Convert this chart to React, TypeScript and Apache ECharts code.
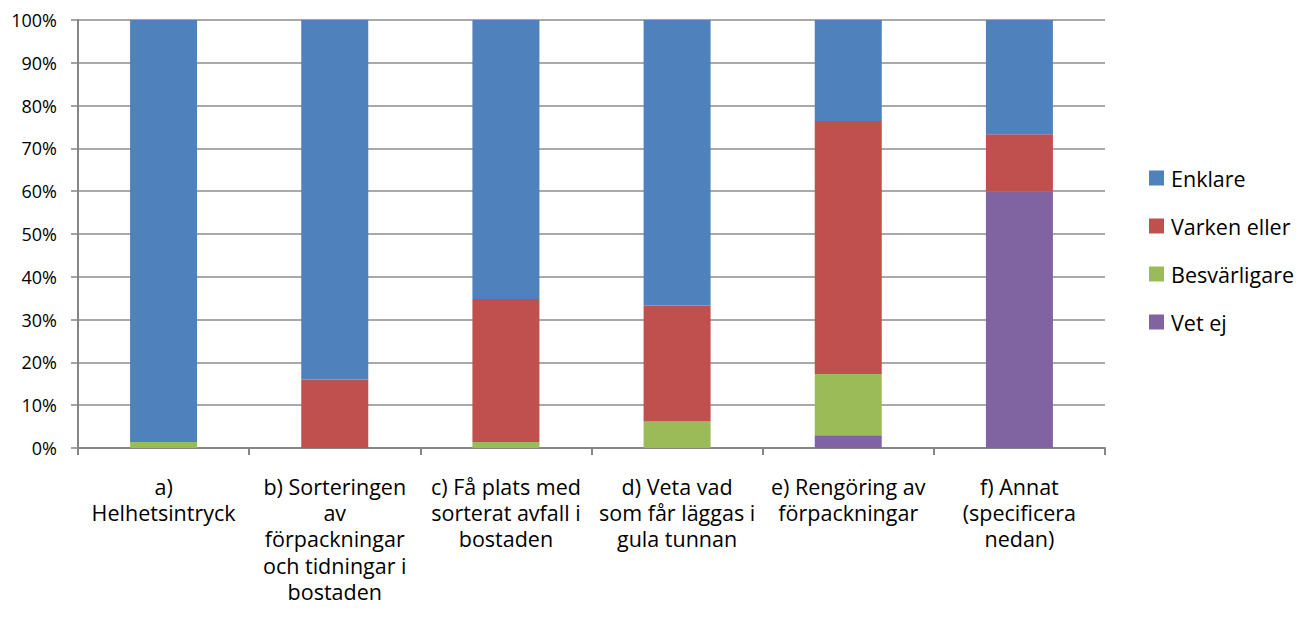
import React, { useEffect, useRef } from "react";
import * as echarts from "echarts";

const categories = [
  "a)\nHelhetsintryck",
  "b) Sorteringen\nav\nförpackningar\noch tidningar i\nbostaden",
  "c) Få plats med\nsorterat avfall i\nbostaden",
  "d) Veta vad\nsom får läggas i\ngula tunnan",
  "e) Rengöring av\nförpackningar",
  "f) Annat\n(specificera\nnedan)",
];
const vetEj = [0, 0, 0, 0, 3.0, 60.0];
const besvarligare = [1.4, 0, 1.4, 6.2, 14.3, 0];
const varkenEller = [0, 16.0, 33.4, 27.1, 59.1, 13.3];
const enklare = [98.6, 84.0, 65.2, 66.7, 23.6, 26.7];
const yTicks = [0, 10, 20, 30, 40, 50, 60, 70, 80, 90, 100];

const FONT = "Open Sans";

export default function App() {
  const ref = useRef<HTMLDivElement>(null);
  useEffect(() => {
    document.body.style.margin = "0";
    const chart = echarts.init(ref.current!, null, { renderer: "svg" });
    const mk = (name: string, data: number[], color: string) => ({
      name,
      type: "bar",
      stack: "total",
      data,
      barWidth: 67,
      itemStyle: { color },
    });
    chart.setOption({
      animation: false,
      textStyle: { fontFamily: FONT },
      grid: { left: 78, top: 20, width: 1027, height: 428, containLabel: false },
      legend: {
        orient: "vertical",
        left: 1144,
        top: 162,
        itemWidth: 15,
        itemHeight: 15,
        itemGap: 26,
        icon: "rect",
        data: ["Enklare", "Varken eller", "Besvärligare", "Vet ej"],
        textStyle: { fontFamily: FONT, fontSize: 21.5, color: "#000", padding: [0, 0, 0, 2] },
      },
      xAxis: {
        type: "category",
        data: categories,
        axisLine: { lineStyle: { color: "#868686", width: 2 } },
        axisTick: { show: true, length: 7, lineStyle: { color: "#868686", width: 2 } },
        axisLabel: {
          interval: 0,
          margin: 25,
          fontSize: 21.5,
          lineHeight: 26.3,
          color: "#000",
          fontFamily: FONT,
        },
      },
      yAxis: {
        type: "value",
        min: 0,
        max: 100,
        interval: 10,
        axisLine: { show: true, lineStyle: { color: "#868686", width: 2 } },
        axisTick: { show: true, length: 7, lineStyle: { color: "#868686", width: 1.5 } },
        splitLine: { lineStyle: { color: "#8c8c8c", width: 1.5 } },
        axisLabel: {
          margin: 21,
          fontSize: 18,
          color: "#000",
          fontFamily: FONT,
          formatter: (v: number) => (yTicks.includes(v) ? v + "%" : ""),
        },
      },
      series: [
        mk("Vet ej", vetEj, "#8064A2"),
        mk("Besvärligare", besvarligare, "#9BBB59"),
        mk("Varken eller", varkenEller, "#C0504D"),
        mk("Enklare", enklare, "#4F81BD"),
      ],
    });
    return () => chart.dispose();
  }, []);
  return <div ref={ref} style={{ width: 1305, height: 621 }} />;
}
